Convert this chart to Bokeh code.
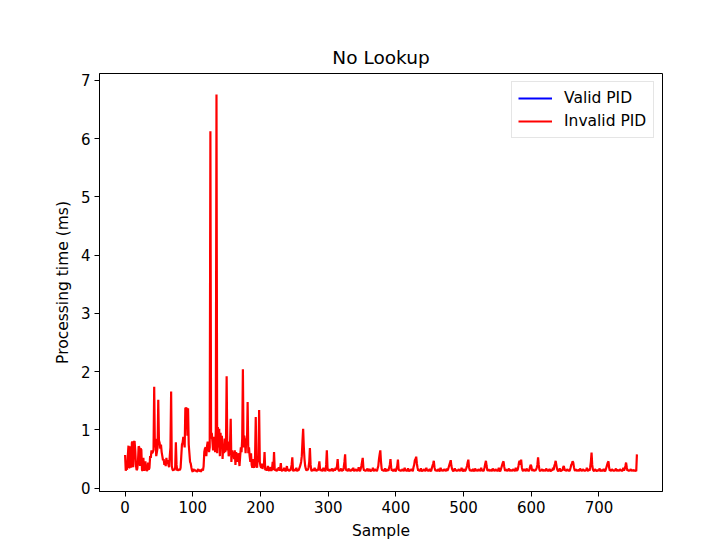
from bokeh.plotting import figure
from bokeh.models import ColumnDataSource, Range1d, FixedTicker
from bokeh.embed import file_html
from bokeh.resources import INLINE

title_text = "No Lookup"
x_label = "Sample"
y_label = "Processing time (ms)"
x_ticks = [0, 100, 200, 300, 400, 500, 600, 700]
y_ticks = [0, 1, 2, 3, 4, 5, 6, 7]

# Valid PID series: nothing visible in the reference (a single missing value)
valid_sample = [0]
valid_pid = [float("nan")]

# Invalid PID processing time (ms), one value per sample
invalid_pid = [
    0.57, 0.30, 0.33, 0.32, 0.55, 0.73, 0.35, 0.36, 0.72, 0.35,
    0.78, 0.80, 0.36, 0.79, 0.81, 0.65, 0.40, 0.31, 0.33, 0.45,
    0.72, 0.70, 0.38, 0.68, 0.66, 0.31, 0.30, 0.52, 0.30, 0.33,
    0.46, 0.32, 0.30, 0.31, 0.44, 0.32, 0.35, 0.55, 0.52, 0.65,
    0.60, 0.62, 0.66, 1.74, 0.70, 0.85, 0.55, 0.62, 0.70, 1.52,
    0.82, 0.78, 0.68, 0.75, 0.62, 0.55, 0.48, 0.50, 0.40, 0.45,
    0.38, 0.52, 0.42, 0.48, 0.40, 0.36, 0.55, 0.70, 1.66, 0.38,
    0.32, 0.30, 0.33, 0.31, 0.35, 0.79, 0.40, 0.30, 0.32, 0.30,
    0.33, 0.31, 0.35, 0.55, 0.75, 0.78, 0.88, 0.80, 0.70, 1.38,
    1.37, 1.38, 0.90, 1.37, 0.75, 0.60, 0.45, 0.42, 0.35, 0.30,
    0.28, 0.33, 0.30, 0.32, 0.29, 0.31, 0.28, 0.30, 0.33, 0.29,
    0.30, 0.32, 0.28, 0.31, 0.33, 0.30, 0.38, 0.62, 0.68, 0.70,
    0.55, 0.72, 0.80, 0.75, 0.62, 0.70, 6.13, 0.85, 0.95, 0.80,
    0.65, 0.88, 0.78, 0.62, 1.00, 6.76, 0.60, 1.05, 0.70, 1.02,
    0.55, 0.95, 0.68, 0.90, 0.50, 0.75, 0.60, 0.85, 0.62, 0.70,
    1.92, 0.65, 0.80, 0.55, 0.60, 0.75, 1.19, 0.45, 0.65, 0.58,
    0.62, 0.50, 0.65, 0.40, 0.62, 0.55, 0.45, 0.60, 0.52, 0.38,
    0.55, 0.70, 0.62, 0.85, 2.04, 0.70, 0.90, 0.82, 0.60, 0.85,
    0.75, 1.48, 0.60, 0.70, 0.55, 0.45, 0.60, 0.40, 0.35, 0.50,
    0.38, 0.35, 0.55, 1.22, 0.40, 0.35, 0.55, 0.45, 1.34, 0.45,
    0.38, 0.35, 0.42, 0.33, 0.40, 0.38, 0.62, 0.31, 0.34, 0.30,
    0.33, 0.38, 0.31, 0.30, 0.33, 0.36, 0.30, 0.32, 0.45, 0.31,
    0.62, 0.33, 0.30, 0.32, 0.29, 0.34, 0.31, 0.36, 0.30, 0.33,
    0.43, 0.31, 0.29, 0.33, 0.30, 0.35, 0.32, 0.29, 0.31, 0.38,
    0.30, 0.33, 0.29, 0.31, 0.30, 0.34, 0.40, 0.53, 0.31, 0.29,
    0.33, 0.30, 0.32, 0.35, 0.29, 0.31, 0.30, 0.33, 0.36, 0.40,
    0.45, 0.55, 0.80, 1.02, 0.70, 0.50, 0.38, 0.33, 0.30, 0.32,
    0.31, 0.36, 0.45, 0.69, 0.40, 0.31, 0.29, 0.33, 0.30, 0.32,
    0.35, 0.30, 0.31, 0.29, 0.33, 0.30, 0.38, 0.46, 0.32, 0.30,
    0.33, 0.29, 0.31, 0.35, 0.30, 0.32, 0.29, 0.40, 0.65, 0.35,
    0.30, 0.32, 0.29, 0.33, 0.31, 0.30, 0.34, 0.29, 0.31, 0.33,
    0.30, 0.35, 0.32, 0.38, 0.50, 0.33, 0.29, 0.31, 0.30, 0.34,
    0.29, 0.32, 0.30, 0.36, 0.45, 0.58, 0.33, 0.30, 0.31, 0.29,
    0.34, 0.30, 0.32, 0.29, 0.31, 0.33, 0.30, 0.35, 0.29, 0.31,
    0.30, 0.33, 0.29, 0.32, 0.30, 0.36, 0.31, 0.29, 0.33, 0.38,
    0.45, 0.52, 0.35, 0.30, 0.32, 0.29, 0.31, 0.30, 0.34, 0.29,
    0.31, 0.33, 0.30, 0.29, 0.32, 0.30, 0.35, 0.31, 0.29, 0.33,
    0.30, 0.32, 0.29, 0.34, 0.38, 0.50, 0.58, 0.65, 0.45, 0.33,
    0.30, 0.32, 0.29, 0.31, 0.34, 0.30, 0.29, 0.33, 0.31, 0.30,
    0.35, 0.40, 0.50, 0.36, 0.30, 0.32, 0.29, 0.31, 0.33, 0.30,
    0.29, 0.34, 0.38, 0.49, 0.33, 0.30, 0.31, 0.29, 0.32, 0.30,
    0.33, 0.29, 0.31, 0.35, 0.30, 0.32, 0.29, 0.31, 0.34, 0.30,
    0.29, 0.32, 0.30, 0.33, 0.31, 0.29, 0.36, 0.40, 0.48, 0.50,
    0.54, 0.42, 0.35, 0.30, 0.32, 0.29, 0.31, 0.34, 0.30, 0.29,
    0.32, 0.30, 0.33, 0.29, 0.31, 0.35, 0.30, 0.32, 0.29, 0.31,
    0.33, 0.30, 0.29, 0.34, 0.38, 0.42, 0.47, 0.36, 0.31, 0.30,
    0.32, 0.29, 0.31, 0.33, 0.30, 0.29, 0.35, 0.31, 0.30, 0.32,
    0.29, 0.33, 0.30, 0.31, 0.29, 0.34, 0.30, 0.32, 0.36, 0.40,
    0.44, 0.48, 0.38, 0.33, 0.30, 0.29, 0.31, 0.34, 0.30, 0.32,
    0.29, 0.31, 0.30, 0.33, 0.29, 0.32, 0.30, 0.35, 0.31, 0.29,
    0.30, 0.33, 0.29, 0.31, 0.34, 0.38, 0.44, 0.49, 0.36, 0.31,
    0.30, 0.32, 0.29, 0.31, 0.33, 0.30, 0.29, 0.34, 0.31, 0.30,
    0.32, 0.29, 0.33, 0.30, 0.31, 0.29, 0.35, 0.30, 0.32, 0.29,
    0.31, 0.36, 0.42, 0.47, 0.38, 0.31, 0.30, 0.33, 0.29, 0.31,
    0.30, 0.32, 0.29, 0.34, 0.30, 0.31, 0.29, 0.33, 0.30, 0.32,
    0.29, 0.31, 0.35, 0.30, 0.29, 0.32, 0.36, 0.40, 0.44, 0.46,
    0.37, 0.31, 0.30, 0.33, 0.29, 0.31, 0.30, 0.34, 0.29, 0.32,
    0.30, 0.31, 0.29, 0.33, 0.30, 0.32, 0.29, 0.35, 0.31, 0.30,
    0.32, 0.38, 0.45, 0.47, 0.40, 0.49, 0.36, 0.31, 0.29, 0.33,
    0.30, 0.31, 0.29, 0.34, 0.30, 0.32, 0.29, 0.31, 0.36, 0.40,
    0.38, 0.31, 0.30, 0.33, 0.29, 0.31, 0.30, 0.32, 0.35, 0.40,
    0.53, 0.40, 0.32, 0.29, 0.31, 0.30, 0.33, 0.29, 0.32, 0.30,
    0.31, 0.29, 0.34, 0.30, 0.32, 0.29, 0.31, 0.33, 0.30, 0.29,
    0.32, 0.30, 0.35, 0.31, 0.38, 0.42, 0.47, 0.40, 0.33, 0.30,
    0.29, 0.31, 0.34, 0.30, 0.29, 0.32, 0.30, 0.36, 0.38, 0.33,
    0.30, 0.31, 0.29, 0.33, 0.30, 0.32, 0.29, 0.31, 0.35, 0.40,
    0.42, 0.46, 0.44, 0.36, 0.31, 0.30, 0.33, 0.29, 0.31, 0.30,
    0.32, 0.29, 0.34, 0.30, 0.31, 0.29, 0.33, 0.30, 0.32, 0.29,
    0.31, 0.30, 0.35, 0.31, 0.29, 0.33, 0.30, 0.36, 0.45, 0.61,
    0.40, 0.32, 0.30, 0.29, 0.33, 0.31, 0.30, 0.29, 0.32, 0.30,
    0.31, 0.34, 0.29, 0.30, 0.32, 0.29, 0.31, 0.33, 0.30, 0.29,
    0.32, 0.36, 0.40, 0.44, 0.46, 0.35, 0.30, 0.31, 0.29, 0.33,
    0.30, 0.32, 0.29, 0.31, 0.30, 0.34, 0.29, 0.32, 0.30, 0.31,
    0.29, 0.33, 0.30, 0.32, 0.29, 0.31, 0.35, 0.30, 0.33, 0.38,
    0.44, 0.36, 0.30, 0.32, 0.29, 0.31, 0.30, 0.33, 0.29, 0.31,
    0.30, 0.32, 0.29, 0.31, 0.30, 0.29, 0.58,
]
invalid_sample = list(range(len(invalid_pid)))

FONT = "DejaVu Sans"

p = figure(
    frame_width=563, frame_height=418,
    min_border_left=99, min_border_right=60,
    min_border_top=73, min_border_bottom=53,
    x_range=Range1d(-37.8, 793.8), y_range=Range1d(-0.057, 7.12),
    output_backend="svg", toolbar_location=None,
    title=title_text,
)
p.background_fill_color = "white"
p.border_fill_color = "white"
p.outline_line_color = "black"
p.outline_line_width = 1
p.xgrid.visible = False
p.ygrid.visible = False

p.title.align = "center"
p.title.text_font = FONT
p.title.text_font_size = "18.5px"
p.title.text_font_style = "normal"
p.title.text_color = "black"
p.title.standoff = 11

for ax, ticks, lab in ((p.xaxis, x_ticks, x_label), (p.yaxis, y_ticks, y_label)):
    ax.ticker = FixedTicker(ticks=ticks)
    ax.axis_label = lab
    ax.axis_label_text_font = FONT
    ax.axis_label_text_font_size = "15.5px"
    ax.axis_label_text_font_style = "normal"
    ax.axis_label_text_color = "black"
    ax.major_label_text_font = FONT
    ax.major_label_text_font_size = "15px"
    ax.major_label_text_color = "black"
    ax.axis_line_color = "black"
    ax.major_tick_line_color = "black"
    ax.major_tick_out = 5
    ax.major_tick_in = 0
    ax.minor_tick_line_color = None
    ax.major_label_standoff = 4

p.xaxis.axis_label_standoff = 6
p.yaxis.axis_label_standoff = 6

src_valid = ColumnDataSource(data=dict(x=valid_sample, y=valid_pid))
src_invalid = ColumnDataSource(data=dict(x=invalid_sample, y=invalid_pid))

p.line("x", "y", source=src_valid, line_color="#0000ff", line_width=2, legend_label="Valid PID")
p.line("x", "y", source=src_invalid, line_color="#ff0000", line_width=2.2, legend_label="Invalid PID")

lg = p.legend[0]
lg.location = "top_right"
lg.margin = 8
lg.padding = 6
lg.spacing = 3
lg.label_height = 20
lg.glyph_height = 20
lg.glyph_width = 34
lg.label_standoff = 12
lg.label_width = 83
lg.label_text_font = FONT
lg.label_text_font_size = "15.5px"
lg.label_text_color = "black"
lg.border_line_color = "#cccccc"
lg.border_line_width = 1
lg.background_fill_alpha = 0.8

open("out.html", "w").write(file_html(p, INLINE))
